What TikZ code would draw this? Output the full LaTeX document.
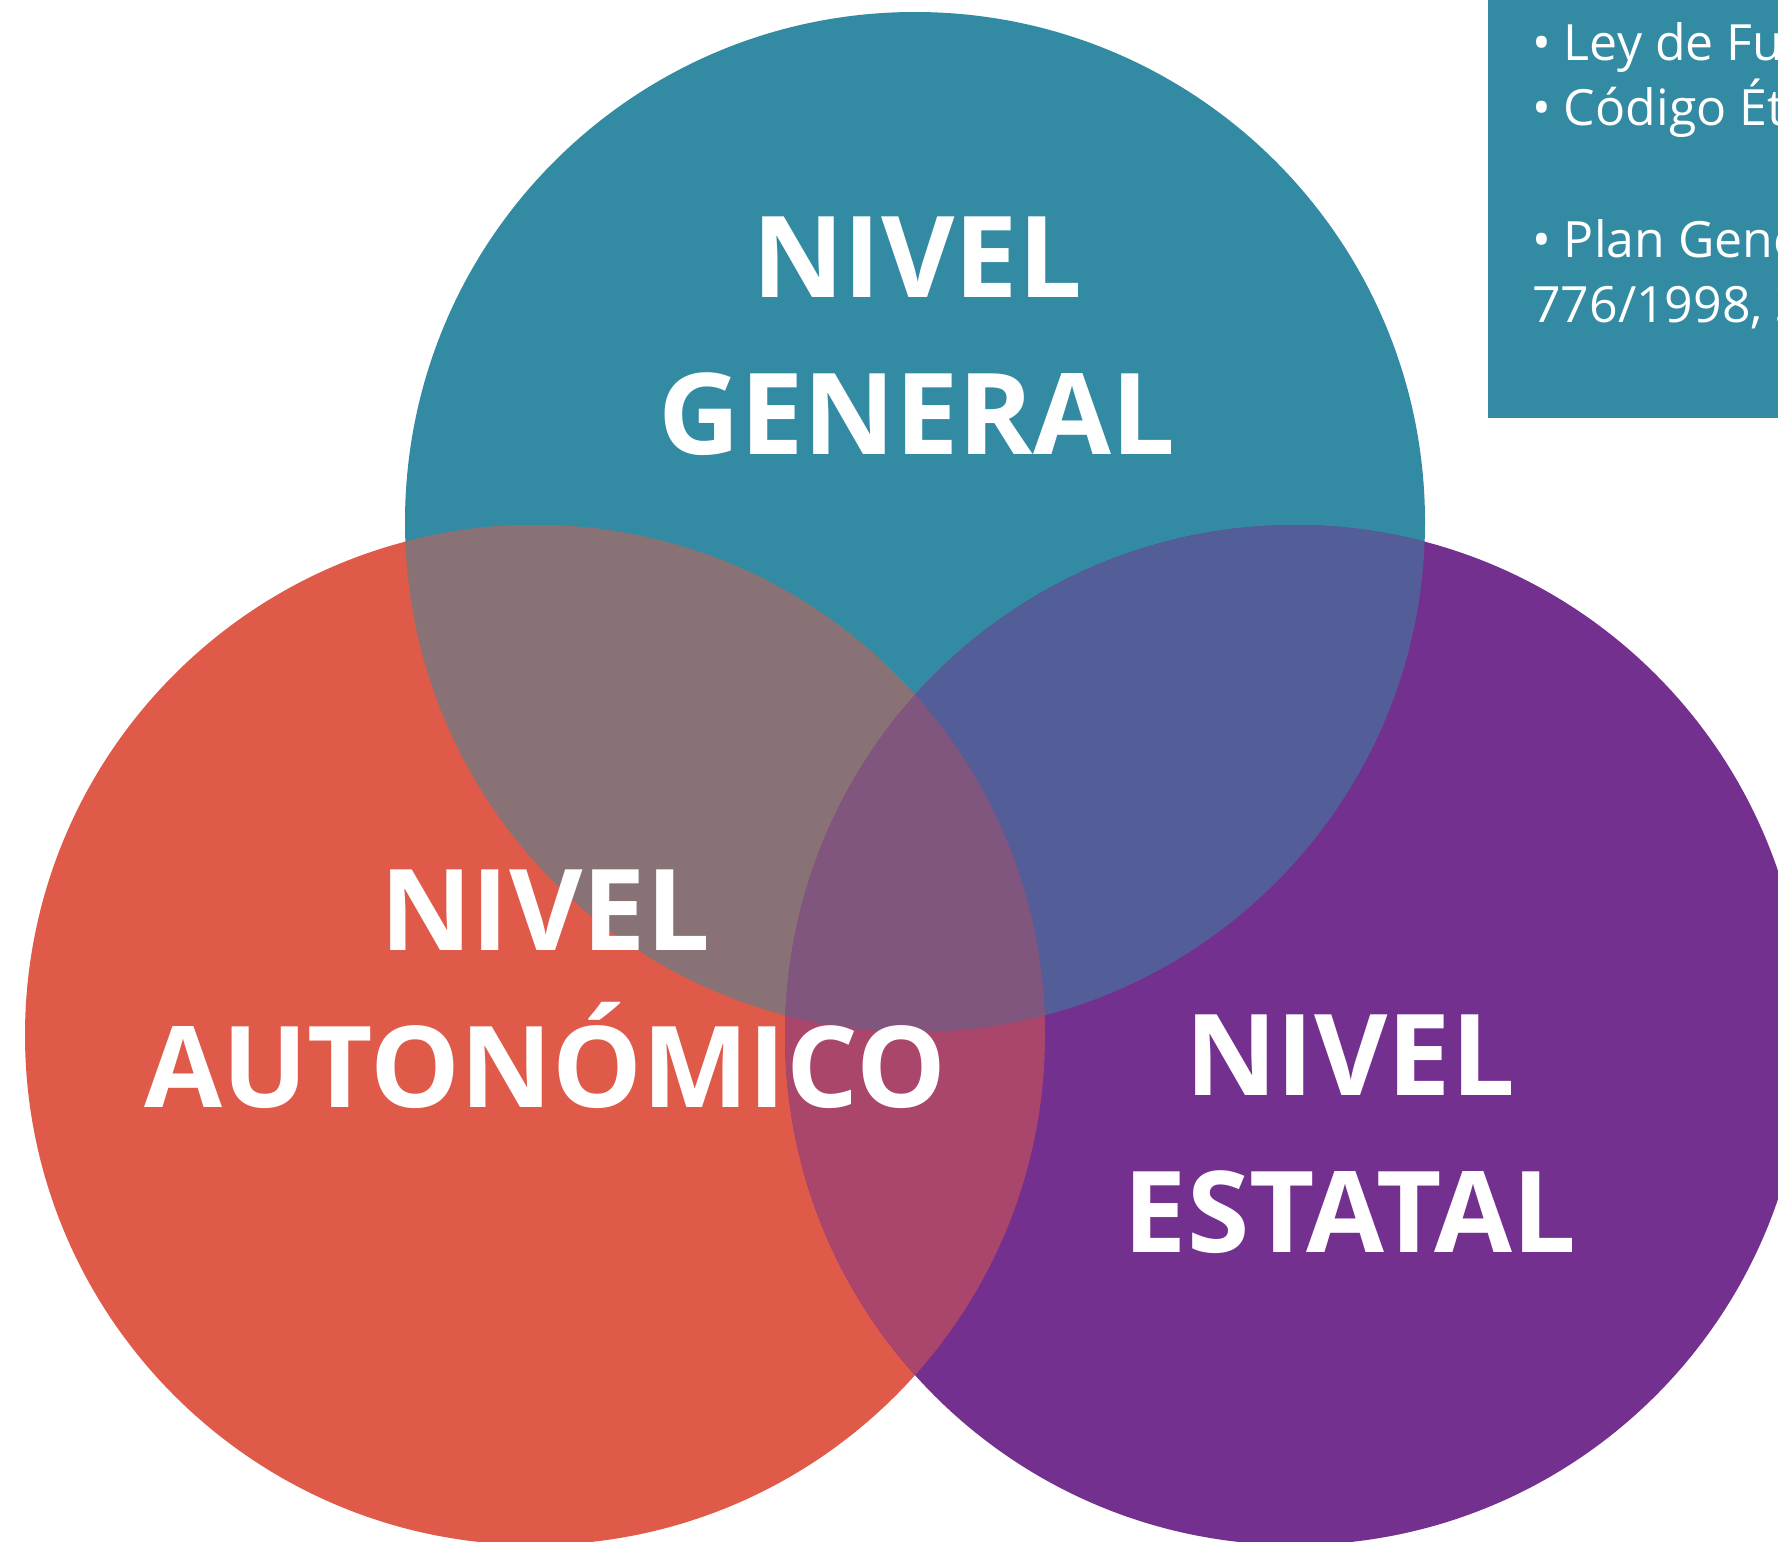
\documentclass[tikz,border=0pt]{standalone}
\usepackage{fontspec}
\setmainfont{Open Sans}
\definecolor{tealgen}{RGB}{51,139,163}
\definecolor{redaut}{RGB}{224,90,73}
\definecolor{purest}{RGB}{116,48,143}
\definecolor{mixall}{RGB}{129,86,126}
\begin{document}
\begin{tikzpicture}[x=1pt, y=-1pt,
    level/.style={font=\fontsize{113}{157}\selectfont\bfseries, text=white, align=center, inner sep=0pt, anchor=base},
    info/.style={font=\fontsize{50}{65}\selectfont, text=white, anchor=base west, inner sep=0pt}]

\useasboundingbox (0,0) rectangle (1778,1542);
\clip (0,0) rectangle (1778,1542);

\coordinate (cg) at (915,522);
\coordinate (ca) at (535,1035);
\coordinate (ce) at (1295,1035);

\fill[tealgen] (cg) circle (510);
\fill[redaut] (ca) circle (510);
\fill[purest] (ce) circle (510);

% overlaps
\begin{scope}
  \clip (cg) circle (510);
  \fill[redaut!50!tealgen] (ca) circle (510);
  \fill[purest!50!tealgen] (ce) circle (510);
\end{scope}
\begin{scope}
  \clip (ca) circle (510);
  \fill[redaut!50!purest] (ce) circle (510);
  \clip (ce) circle (510);
  \fill[mixall] (cg) circle (510);
\end{scope}

% info box
\fill[tealgen] (1488,0) rectangle (1778,418);
\node[info] (ley) at (1532,60) {• Ley de Fu};
\node[info] (cod) at (1532,125) {• Código Ét};
\node[info] (plan) at (1532,257) {• Plan Gene};
\node[info] (rd) at (1532,322) {776/1998, 3};

\node[level] (gen) at (917,454) {NIVEL\\GENERAL};
\node[level] (aut) at (545,1107) {NIVEL\\AUTONÓMICO};
\node[level] (est) at (1350,1252) {NIVEL\\ESTATAL};
\end{tikzpicture}
\end{document}
